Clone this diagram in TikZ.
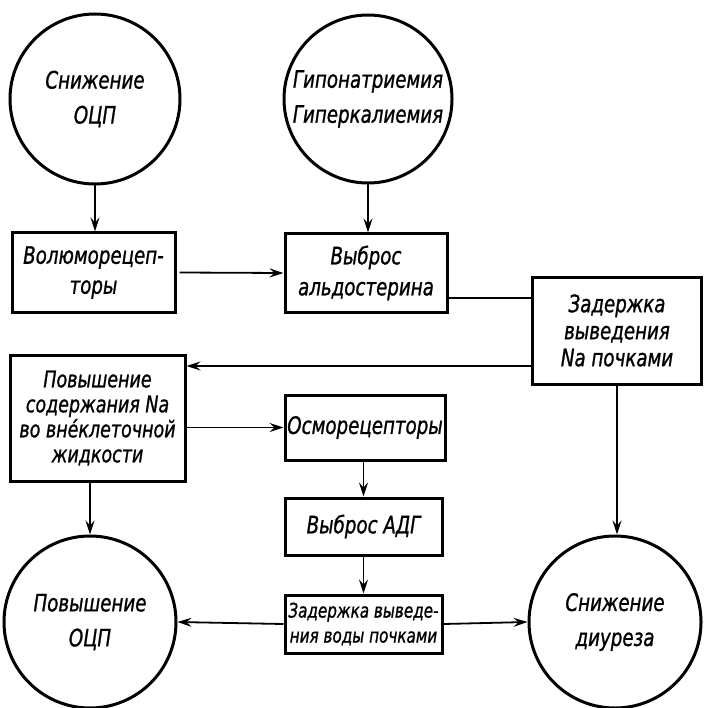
\documentclass[tikz,border=0pt]{standalone}
\usepackage{fontspec}
\setmainfont{DejaVu Sans}[FakeStretch=0.76,FakeBold=1]
\usetikzlibrary{arrows.meta}

\begin{document}
\begin{tikzpicture}[x=1pt,y=-1pt,
    every node/.style={font=\fontsize{24}{35}\selectfont\itshape, align=center, inner sep=0pt},
    circ/.style={draw, circle, line width=3pt},
    blok/.style={draw, rectangle, line width=3pt},
    arr/.style={line width=1.8pt, -{Stealth[length=14pt,width=9pt,inset=5pt]}},
    lin/.style={line width=1.8pt}]
                \useasboundingbox (0,0) rectangle (703,708);
                %% circles
                \node[circ, minimum size=170] (c1) at (95,99) {Снижение\\ОЦП};
                \node[circ, minimum size=168] (c2) at (368,99) {Гипонатриемия\\Гиперкалиемия};
                \node[circ, minimum size=172] (c3) at (90,622) {Повышение\\ОЦП};
                \node[circ, minimum size=172] (c4) at (615,622) {Снижение\\диуреза};
                %% boxes
                \node[blok, minimum width=163, minimum height=79, font=\fontsize{24}{30}\selectfont\itshape] (b1) at (93.5,272.5) {Волюморецеп-\\торы};
                \node[blok, minimum width=162, minimum height=78, font=\fontsize{24}{31}\selectfont\itshape] (b2) at (366,273) {Выброс\\альдостерина};
                \node[blok, minimum width=169, minimum height=107, font=\fontsize{24}{27}\selectfont\itshape] (b3) at (617,330.5) {Задержка\\выведения\\Na почками};
                \node[blok, minimum width=175, minimum height=126, font=\fontsize{23}{25}\selectfont\itshape] (b4) at (97.5,418) {Повышение\\содержания Na\\во вне́клеточной\\жидкости};
                \node[blok, minimum width=160, minimum height=65] (b5) at (365,427.5) {Осморецепторы};
                \node[blok, minimum width=157, minimum height=57] (b6) at (363.5,526.5) {Выброс АДГ};
                \node[blok, minimum width=157, minimum height=58, font=\fontsize{20}{25}\selectfont\itshape] (b7) at (363.5,624) {Задержка выведе-\\ния воды почками};
                %% top row
                \draw[arr] (c1.south) -- (c1.south |- b1.north);
                \draw[arr] (c2.south) -- (c2.south |- b2.north);
                \draw[arr] ([xshift=3pt]b1.east) -- (b2.west);
                \draw[lin] ([yshift=-25pt]b2.east) -- ([yshift=-25pt]b2.east -| b3.west);
                %% back to the left
                \draw[arr] ([yshift=-35.5pt]b3.west) -- ([yshift=-35.5pt]b3.west -| b4.east);
                \draw[arr] (b4.east |- b5.west) -- (b5.west);
                \draw[arr] (b5.south -| b6.north) -- (b6.north);
                \draw[arr] (b6.south) -- (b7.north);
                \draw[arr] (c3.north |- b4.south) -- (c3.north);
                %% bottom row
                \draw[arr] (b7.west) -- (c3.east);
                \draw[arr] (b7.east) -- (c4.west);
                \draw[arr] (b3.south) -- (b3.south |- c4.north);
            \end{tikzpicture}
\end{document}
